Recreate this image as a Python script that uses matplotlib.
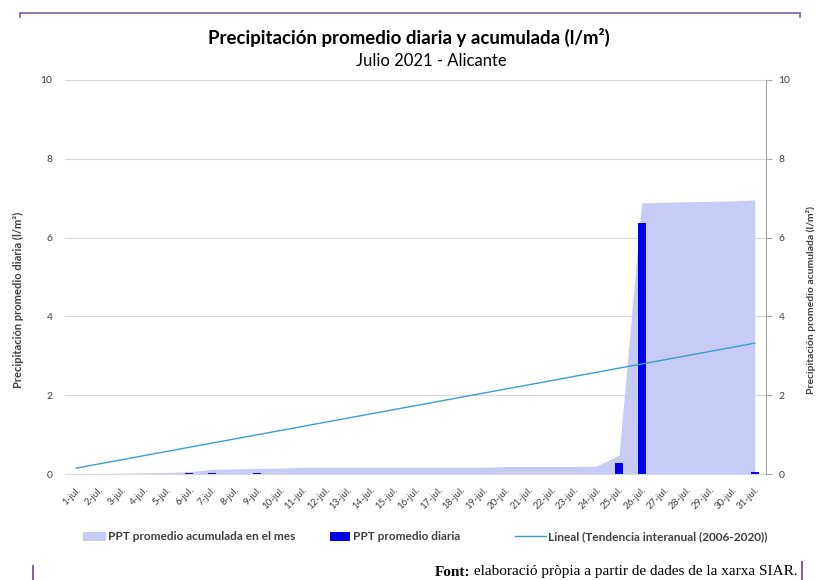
import matplotlib
matplotlib.use("Agg")
import matplotlib.pyplot as plt
from matplotlib.lines import Line2D
from matplotlib.patches import Patch
import numpy as np

# ---- data ----
days = [f"{d}-jul." for d in range(1, 32)]
daily = [0, 0, 0, 0, 0, 0.02, 0.02, 0, 0.02, 0, 0, 0, 0, 0, 0, 0, 0, 0, 0, 0,
         0, 0, 0, 0, 0.28, 6.38, 0, 0, 0, 0, 0.05]
cumulative = [0.0, 0.01, 0.02, 0.03, 0.04, 0.06, 0.12, 0.13, 0.14, 0.15, 0.17,
              0.17, 0.17, 0.17, 0.17, 0.17, 0.17, 0.17, 0.17, 0.19, 0.19, 0.19,
              0.19, 0.20, 0.48, 6.88, 6.90, 6.91, 6.92, 6.93, 6.96]
trend_days = [1, 31]
trend_values = [0.15, 3.32]
yticks = [0, 2, 4, 6, 8, 10]

title = "Precipitación promedio diaria y acumulada (l/m²)"
subtitle = "Julio 2021 - Alicante"
ylabel_left = "Precipitación promedio diaria (l/m²)"
ylabel_right = "Precipitación promedio acumulada (l/m²)"
legend_labels = ["PPT promedio acumulada en el mes", "PPT promedio diaria",
                 "Lineal (Tendencia interanual (2006-2020))"]

area_color = "#C7CCF7"
bar_color = "#0000F0"
line_color = "#3A9FD0"
purple = "#8064A2"
grid_color = "#D9D9D9"
text_color = "#404040"

plt.rcParams['font.family'] = ['Lato', 'DejaVu Sans']

W, H = 818, 580
fig = plt.figure(figsize=(W / 100, H / 100), dpi=100)
ax = fig.add_axes([65 / W, 1 - 474 / H, (766 - 65) / W, (474 - 80) / H])

x = np.arange(1, 32)
ax.fill_between(x, 0, cumulative, color=area_color, linewidth=0, zorder=1)
ax.bar(x, daily, width=0.36, color=bar_color, zorder=2)
ax.plot(trend_days, trend_values, color=line_color, linewidth=1.0, zorder=3)

ax.set_xlim(0.5, 31.5)
ax.set_ylim(0, 10)
ax.set_yticks(yticks)
ax.set_yticklabels([str(t) for t in yticks], fontsize=7.5, color=text_color)
ax.yaxis.grid(True, color=grid_color, linewidth=0.8, zorder=0)
ax.set_axisbelow(True)
ax.tick_params(axis='y', length=0, pad=9)
ax.set_xticks(x)
ax.set_xticklabels(days, rotation=45, ha='right', rotation_mode='anchor',
                   fontsize=7, color=text_color)
ax.tick_params(axis='x', length=0, pad=8)
for s in ['top', 'left', 'right']:
    ax.spines[s].set_visible(False)
ax.spines['bottom'].set_color(grid_color)

ax2 = ax.twinx()
ax2.set_ylim(0, 10)
ax2.set_yticks(yticks)
ax2.set_yticklabels([str(t) for t in yticks], fontsize=7.5, color=text_color)
ax2.tick_params(axis='y', length=4, color="#A6A6A6", pad=5)
for s in ['top', 'left', 'bottom']:
    ax2.spines[s].set_visible(False)
ax2.spines['right'].set_color("#A6A6A6")

fig.text(18 / W, 1 - 300 / H, ylabel_left, rotation=90, ha='center', va='center',
         fontsize=8, fontweight='bold', color=text_color)
fig.text(811 / W, 1 - 300 / H, ylabel_right, rotation=90, ha='center', va='center',
         fontsize=7.5, fontweight='bold', color=text_color)

fig.text(409 / W, 1 - 37 / H, title, ha='center', va='center', fontsize=13.4,
         fontweight='bold', color='black')
fig.text(431 / W, 1 - 61 / H, subtitle, ha='center', va='center', fontsize=12,
         color='black')

handles = [Patch(facecolor=area_color, edgecolor='none'),
           Patch(facecolor=bar_color, edgecolor='none'),
           Line2D([0], [0], color=line_color, linewidth=1.0)]
leg_x = [83, 330, 515]
hlen = [1.9, 1.7, 2.6]
for h, lab, lx, hl in zip(handles, legend_labels, leg_x, hlen):
    leg = fig.legend([h], [lab], loc='center left',
                     bbox_to_anchor=(lx / W, 1 - 537 / H), frameon=False,
                     borderaxespad=0, borderpad=0,
                     prop={'size': 8.6, 'weight': 'bold'}, handlelength=hl,
                     handleheight=0.85, handletextpad=0.2)
    for t in leg.get_texts():
        t.set_color(text_color)

# frame decorations
fig.add_artist(Line2D([20 / W, 800 / W], [1 - 13 / H, 1 - 13 / H], color=purple, linewidth=1.2))
fig.add_artist(Line2D([20 / W, 20 / W], [1 - 13 / H, 1 - 17 / H], color=purple, linewidth=1.2))
fig.add_artist(Line2D([800 / W, 800 / W], [1 - 13 / H, 1 - 17 / H], color=purple, linewidth=1.2))
fig.add_artist(Line2D([33 / W, 33 / W], [1 - 566 / H, 0], color=purple, linewidth=1.5))
fig.add_artist(Line2D([802 / W, 802 / W], [1 - 562 / H, 1 - 580 / H], color=purple, linewidth=1.5))

# footer
serif = ['Liberation Serif', 'DejaVu Serif']
t_rest = fig.text(798 / W, 1 - 572 / H, " elaboració pròpia a partir de dades de la xarxa SIAR.",
                  ha='right', va='center', fontsize=11, family=serif, color='black')
fig.canvas.draw()
bb = t_rest.get_window_extent(fig.canvas.get_renderer())
fig.text(bb.x0 / W, 1 - 572 / H, "Font:", ha='right', va='center', fontsize=11,
         family=serif, fontweight='bold', color='black')

fig.savefig("out.png", dpi=100)
